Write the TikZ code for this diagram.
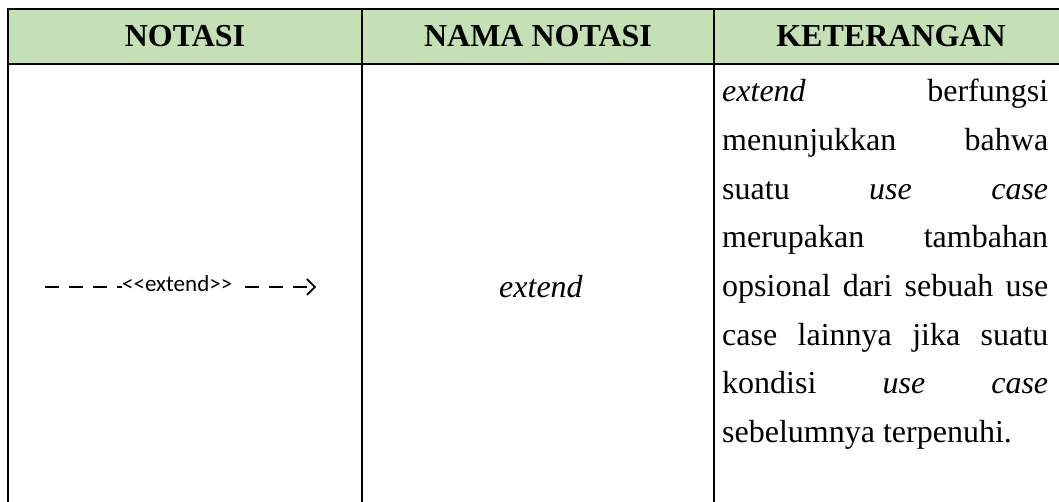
\documentclass[tikz,border=0pt]{standalone}
\usepackage{fontspec}
\setmainfont{Liberation Serif}
\newfontfamily\lblfont{Carlito}
\usetikzlibrary{arrows.meta}
\definecolor{hdrgreen}{HTML}{C5E0B4}
\tikzset{
  grid/.style={line width=2.6pt, line cap=rect},
  hdr/.style={font=\fontsize{32}{38}\selectfont\bfseries, inner sep=0pt, anchor=base},
  body/.style={font=\fontsize{32}{38}\selectfont, inner sep=0pt},
  lbl/.style={font=\lblfont\fontsize{23}{27}\selectfont, inner sep=0pt},
  dashline/.style={line width=2pt, dash pattern=on 14pt off 10pt},
}
\begin{document}
\begin{tikzpicture}[x=1pt,y=-1pt]
\useasboundingbox (0,0) rectangle (1059,502);
\clip (0,0) rectangle (1059,502);
% header background
\fill[hdrgreen] (8,9) rectangle (1080,64);
% grid lines
\draw[grid] (8,9) -- (1080,9);
\draw[grid] (8,64) -- (1080,64);
\draw[grid] (8,9) -- (8,520);
\draw[grid] (362,9) -- (362,520);
\draw[grid] (714,9) -- (714,520);
% header texts
\node[hdr] (h1) at (185,47) {NOTASI};
\node[hdr] (h2) at (538,47) {NAMA NOTASI};
\node[hdr] (h3) at (891,47) {KETERANGAN};
% notation
\coordinate (as) at (45,287);
\coordinate (ae) at (316,287);
\node[lbl, anchor=west] (lab) at (122,284) {<\kern0pt<extend>\kern0pt>};
\draw[dashline] (as) -- (lab.west |- as);
\draw[dashline, -{Straight Barb[length=8pt,width=16pt,line width=1.6pt]}] ([xshift=13pt]lab.east |- ae) -- (ae);
% name
\node[body, anchor=base] (nm) at (541,298) {\textit{extend}};
% description
\node[body, anchor=base west] (k1) at (722,102) {\hbox to 326pt{\textit{extend}\hfill berfungsi}};
\node[body, anchor=base west] (k2) at (722,150.6) {\hbox to 326pt{menunjukkan\hfill bahwa}};
\node[body, anchor=base west] (k3) at (722,199.2) {\hbox to 326pt{suatu\hfill\textit{use}\hfill\textit{case}}};
\node[body, anchor=base west] (k4) at (722,247.8) {\hbox to 326pt{merupakan\hfill tambahan}};
\node[body, anchor=base west] (k5) at (722,296.4) {\hbox to 326pt{opsional\hfill dari\hfill sebuah\hfill use}};
\node[body, anchor=base west] (k6) at (722,345) {\hbox to 326pt{case\hfill lainnya\hfill jika\hfill suatu}};
\node[body, anchor=base west] (k7) at (722,393.6) {\hbox to 326pt{kondisi\hfill\textit{use}\hfill\textit{case}}};
\node[body, anchor=base west] (k8) at (722,442.2) {sebelumnya terpenuhi.};
\end{tikzpicture}
\end{document}
